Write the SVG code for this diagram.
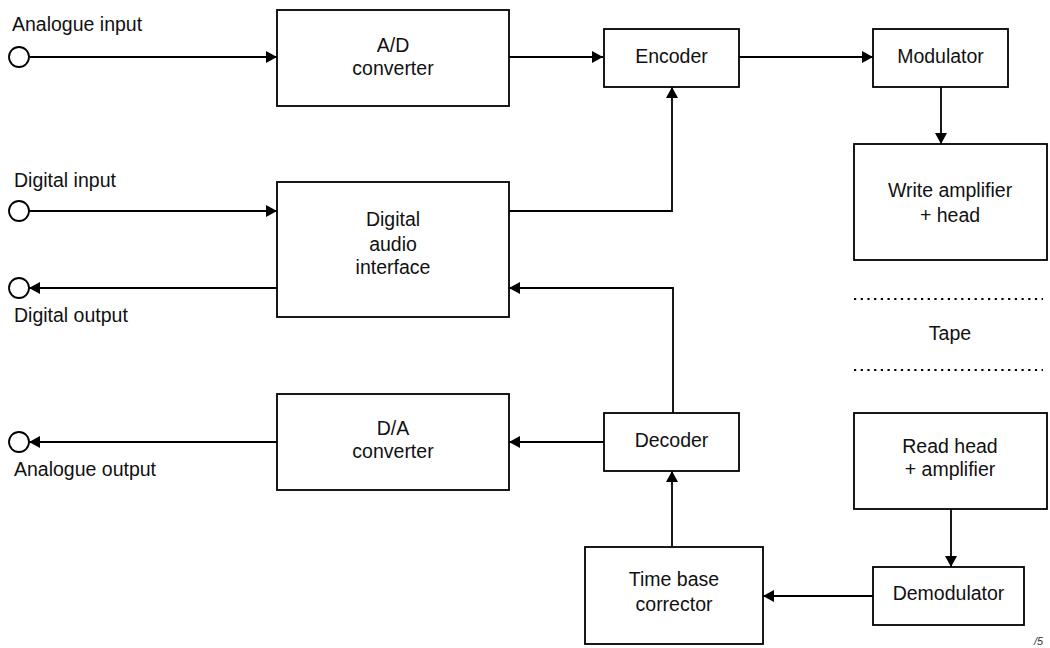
<svg xmlns="http://www.w3.org/2000/svg" width="1050" height="648" viewBox="0 0 1050 648">
  <defs>
    <marker id="arrow" markerUnits="userSpaceOnUse" markerWidth="13" markerHeight="13" refX="11" refY="6.5" orient="auto">
      <path d="M0,0.5 L11,6.5 L0,12.5 Z" fill="#000"/>
    </marker>
    <style>
      .box { fill: #fff; stroke: #000; stroke-width: 1.8; }
      .term { fill: #fff; stroke: #000; stroke-width: 1.8; }
      .wire { fill: none; stroke: #000; stroke-width: 1.8; }
      .arr { marker-end: url(#arrow); }
      .dots { fill: none; stroke: #000; stroke-width: 1.8; stroke-dasharray: 2.2 4.5; }
      text { font-family: "Liberation Sans", Arial, sans-serif; font-size: 19.5px; fill: #111; }
      .c { text-anchor: middle; }
    </style>
  </defs>

  <!-- signal paths -->
  <g id="connectors">
    <path class="wire arr" d="M29,57 H277"/>
    <path class="wire arr" d="M509,57 H603"/>
    <path class="wire arr" d="M739,57 H873"/>
    <path class="wire arr" d="M941,87 V144"/>
    <path class="wire arr" d="M29,211 H277"/>
    <path class="wire arr" d="M509,211 H672 V87"/>
    <path class="wire arr" d="M277,288 H29"/>
    <path class="wire arr" d="M673,413 V288 H509"/>
    <path class="wire arr" d="M604,442 H509"/>
    <path class="wire arr" d="M277,442 H29"/>
    <path class="wire arr" d="M672,547 V471"/>
    <path class="wire arr" d="M873,596 H763"/>
    <path class="wire arr" d="M951,509 V567"/>
  </g>

  <!-- terminals -->
  <g id="analogue-input">
    <circle class="term" cx="19" cy="57" r="10"/>
    <text x="12" y="31">Analogue input</text>
  </g>
  <g id="digital-input">
    <circle class="term" cx="19" cy="211" r="10"/>
    <text x="14" y="187">Digital input</text>
  </g>
  <g id="digital-output">
    <circle class="term" cx="19" cy="288" r="10"/>
    <text x="14" y="322">Digital output</text>
  </g>
  <g id="analogue-output">
    <circle class="term" cx="19" cy="442" r="10"/>
    <text x="14" y="476">Analogue output</text>
  </g>

  <!-- processing blocks -->
  <g id="ad-converter">
    <rect class="box" x="277" y="10" width="232" height="96"/>
    <text class="c" x="393" y="52">A/D</text>
    <text class="c" x="393" y="75">converter</text>
  </g>
  <g id="encoder">
    <rect class="box" x="604" y="29" width="135" height="58"/>
    <text class="c" x="671.5" y="63">Encoder</text>
  </g>
  <g id="modulator">
    <rect class="box" x="873" y="29" width="135" height="58"/>
    <text class="c" x="940.5" y="63">Modulator</text>
  </g>
  <g id="write-amplifier">
    <rect class="box" x="854" y="144" width="193" height="116"/>
    <text class="c" x="950" y="197">Write amplifier</text>
    <text class="c" x="950" y="222">+ head</text>
  </g>
  <g id="digital-audio-interface">
    <rect class="box" x="277" y="182" width="232" height="135"/>
    <text class="c" x="393" y="226">Digital</text>
    <text class="c" x="393" y="251">audio</text>
    <text class="c" x="393" y="274">interface</text>
  </g>
  <g id="tape">
    <path class="dots" d="M854,299 H1043"/>
    <path class="dots" d="M854,370 H1043"/>
    <text class="c" x="950" y="340">Tape</text>
  </g>
  <g id="da-converter">
    <rect class="box" x="277" y="394" width="232" height="96"/>
    <text class="c" x="393" y="435">D/A</text>
    <text class="c" x="393" y="458">converter</text>
  </g>
  <g id="decoder">
    <rect class="box" x="604" y="413" width="135" height="58"/>
    <text class="c" x="671.5" y="447">Decoder</text>
  </g>
  <g id="read-head">
    <rect class="box" x="854" y="413" width="193" height="96"/>
    <text class="c" x="950" y="453">Read head</text>
    <text class="c" x="950" y="476">+ amplifier</text>
  </g>
  <g id="time-base-corrector">
    <rect class="box" x="585" y="547" width="178" height="97"/>
    <text class="c" x="674" y="586">Time base</text>
    <text class="c" x="674" y="611">corrector</text>
  </g>
  <g id="demodulator">
    <rect class="box" x="873" y="567" width="151" height="58"/>
    <text class="c" x="948.5" y="600">Demodulator</text>
  </g>

  <!-- figure number -->
  <text x="1034" y="645" style="font-size:11px;font-style:italic;fill:#333">/5</text>
</svg>
